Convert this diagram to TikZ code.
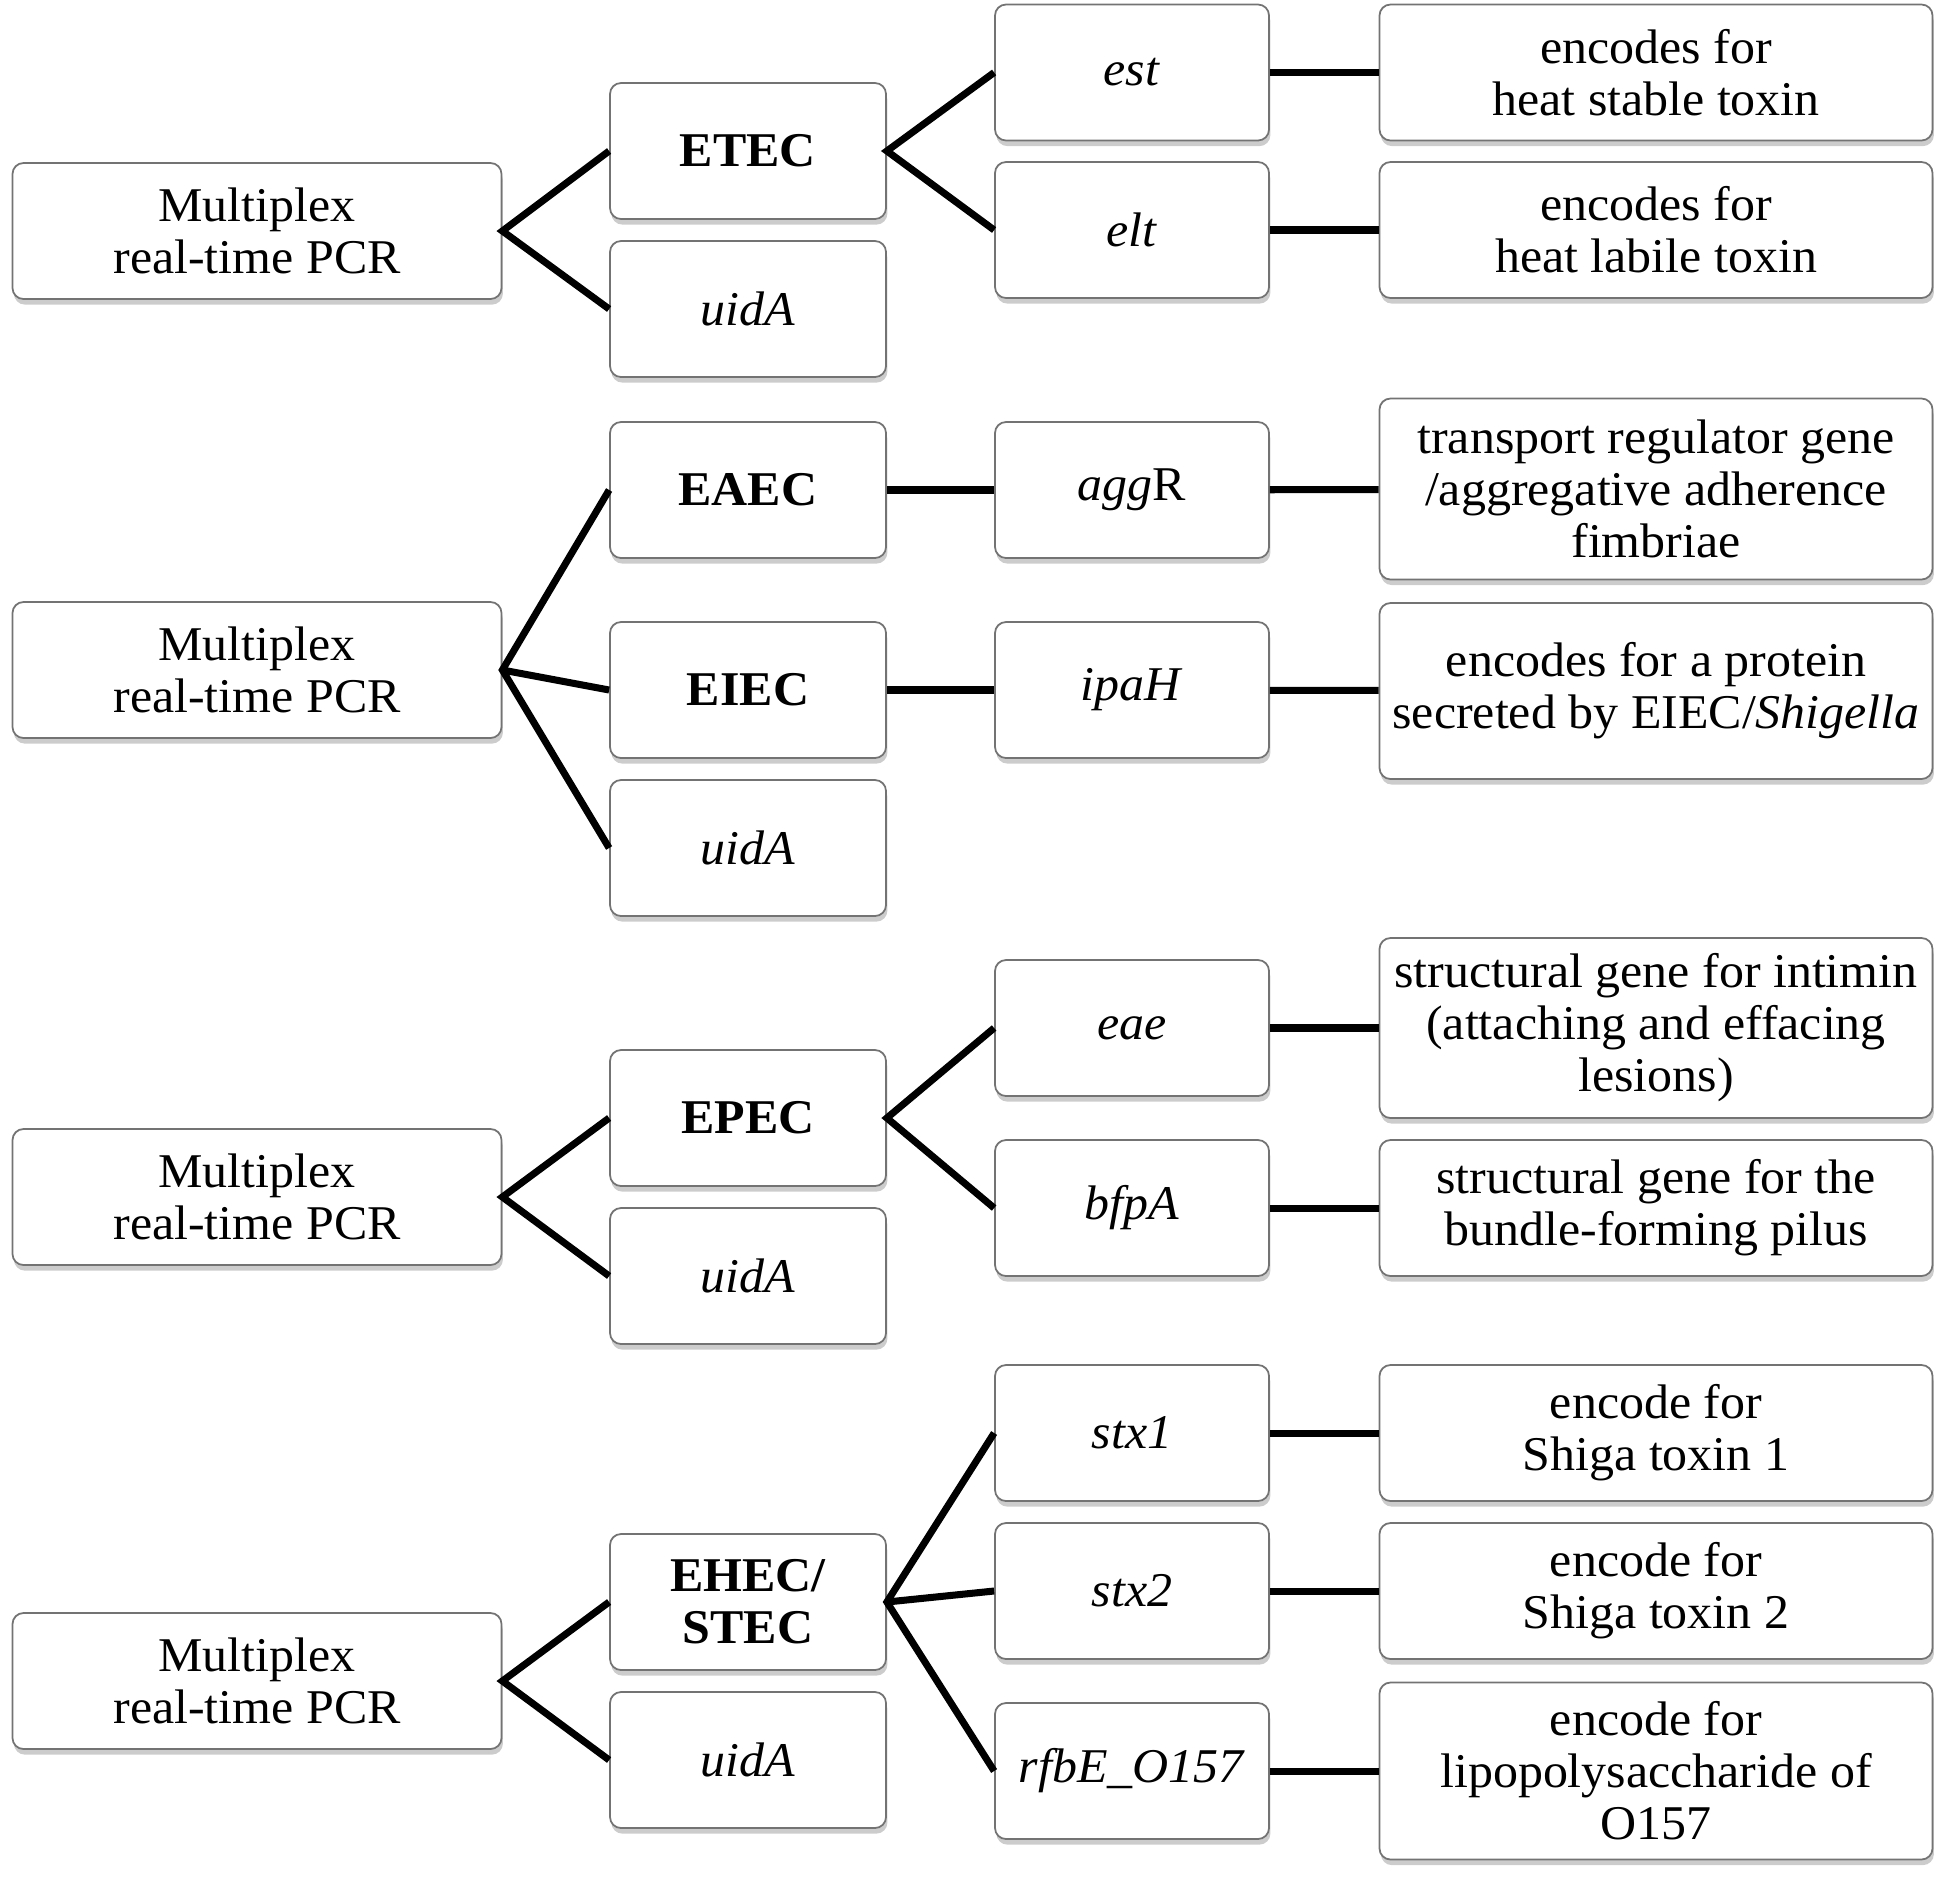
\documentclass[tikz,border=0pt]{standalone}
\usepackage{fontspec}
\setmainfont{Liberation Serif}[FakeStretch=1.03]
\usetikzlibrary{shadows}
\tikzset{
    box/.style = {draw = black!55, line width = 0.5pt, rounded corners = 1.1mm, fill = white,
        drop shadow = {shadow xshift = 0.4pt, shadow yshift = -1.6pt, opacity = 0.4},
        align = center, inner sep = 0pt, minimum height = 1.36cm,
        font = \fontsize{13.8}{14.8}\selectfont},
    pcrbox/.style = {box, minimum width = 4.89cm},
    typebox/.style = {box, minimum width = 2.76cm},
    genebox/.style = {box, minimum width = 2.74cm},
    rolebox/.style = {box, minimum width = 5.53cm},
    link/.style = {line width = 2pt}
}
\begin{document}
\begin{tikzpicture}
    \useasboundingbox (0, 0) rectangle (19.45, -18.79);
    % ETEC
    \node[pcrbox] (pcr1) at (2.57, -2.31) {Multiplex\\real-time PCR};
        \node[typebox] (etec) at (7.48, -1.51) {\textbf{ETEC}};
        \node[typebox] (uid1) at (7.48, -3.09) {\textit{uidA}};
            \node[genebox] (est) at (11.32, -0.725) {\textit{est}};
            \node[genebox] (elt) at (11.32, -2.30) {\textit{elt}};
                \node[rolebox] (rest) at (16.56, -0.725) {encodes for\\heat stable toxin};
                \node[rolebox] (relt) at (16.56, -2.30) {encodes for\\heat labile toxin};
    \draw[link] (etec.west) -- (pcr1.east) -- (uid1.west);
    \draw[link] (est.west) -- (etec.east) -- (elt.west);
    \draw[link] (est) -- (rest);
    \draw[link] (elt) -- (relt);
    % EAEC / EIEC
    \node[pcrbox] (pcr2) at (2.57, -6.70) {Multiplex\\real-time PCR};
        \node[typebox] (eaec) at (7.48, -4.90) {\textbf{EAEC}};
        \node[typebox] (eiec) at (7.48, -6.90) {\textbf{EIEC}};
        \node[typebox] (uid2) at (7.48, -8.48) {\textit{uidA}};
            \node[genebox] (aggr) at (11.32, -4.90) {\textit{agg}R};
            \node[genebox] (ipah) at (11.32, -6.90) {\textit{ipaH}};
                \node[rolebox, minimum height = 1.81cm] (raggr) at (16.56, -4.89)
                    {transport regulator gene\\/aggregative adherence\\fimbriae};
                \node[rolebox, minimum height = 1.76cm] (ripah) at (16.56, -6.91)
                    {encodes for a protein\\secreted by EIEC/\textit{Shigella}};
    \draw[link] (eaec.west) -- (pcr2.east) -- (uid2.west);
    \draw[link] (pcr2.east) -- (eiec.west);
    \draw[link] (eaec) -- (aggr);
    \draw[link] (eiec) -- (ipah);
    \draw[link] (aggr) -- (raggr);
    \draw[link] (ipah) -- (ripah);
    % EPEC
    \node[pcrbox] (pcr3) at (2.57, -11.97) {Multiplex\\real-time PCR};
        \node[typebox] (epec) at (7.48, -11.18) {\textbf{EPEC}};
        \node[typebox] (uid3) at (7.48, -12.76) {\textit{uidA}};
            \node[genebox] (eae) at (11.32, -10.28) {\textit{eae}};
            \node[genebox] (bfpa) at (11.32, -12.08) {\textit{bfpA}};
                \node[rolebox, minimum height = 1.80cm] (reae) at (16.56, -10.28)
                    {structural gene for intimin\\(attaching and effacing\\lesions)};
                \node[rolebox] (rbfpa) at (16.56, -12.08)
                    {structural gene for the\\bundle-forming pilus};
    \draw[link] (epec.west) -- (pcr3.east) -- (uid3.west);
    \draw[link] (eae.west) -- (epec.east) -- (bfpa.west);
    \draw[link] (eae) -- (reae);
    \draw[link] (bfpa) -- (rbfpa);
    % EHEC / STEC
    \node[pcrbox] (pcr4) at (2.57, -16.81) {Multiplex\\real-time PCR};
        \node[typebox] (ehec) at (7.48, -16.02) {\textbf{EHEC/}\\\textbf{STEC}};
        \node[typebox] (uid4) at (7.48, -17.60) {\textit{uidA}};
            \node[genebox] (stxa) at (11.32, -14.33) {\textit{stx1}};
            \node[genebox] (stxb) at (11.32, -15.91) {\textit{stx2}};
            \node[genebox] (rfbe) at (11.32, -17.71) {\textit{rfbE\_O157}};
                \node[rolebox] (rstxa) at (16.56, -14.33) {encode for\\Shiga toxin 1};
                \node[rolebox] (rstxb) at (16.56, -15.91) {encode for\\Shiga toxin 2};
                \node[rolebox, minimum height = 1.77cm] (rrfbe) at (16.56, -17.71)
                    {encode for\\lipopolysaccharide of\\O157};
    \draw[link] (ehec.west) -- (pcr4.east) -- (uid4.west);
    \draw[link] (stxa.west) -- (ehec.east) -- (rfbe.west);
    \draw[link] (ehec.east) -- (stxb.west);
    \draw[link] (stxa) -- (rstxa);
    \draw[link] (stxb) -- (rstxb);
    \draw[link] (rfbe) -- (rrfbe);
\end{tikzpicture}
\end{document}
